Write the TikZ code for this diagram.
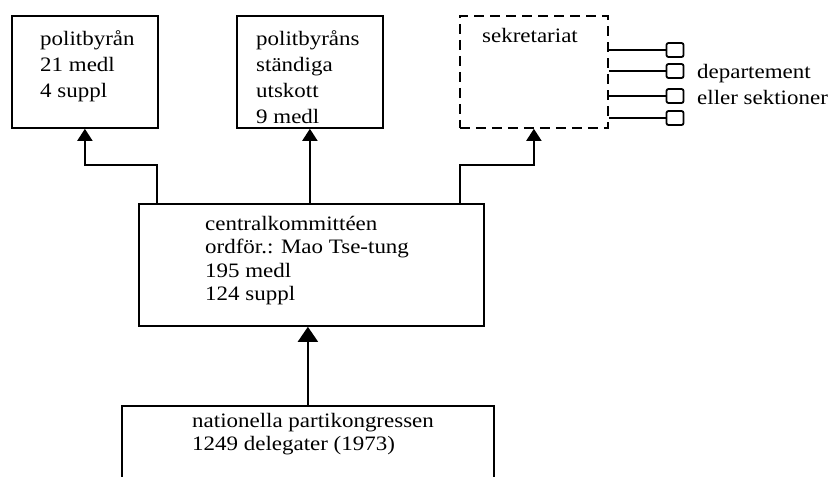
\documentclass[tikz,border=0pt]{standalone}
\usepackage{fontspec}
\setmainfont{Liberation Serif}[FakeStretch=1.12]
\usetikzlibrary{arrows.meta}

\begin{document}
\begin{tikzpicture}[x=1pt, y=-1pt,
    box/.style={draw, line width=1.8pt, inner sep=0pt, anchor=north west},
    txt/.style={anchor=north west, inner sep=0pt, align=left, font=\fontsize{20.5}{26}\selectfont},
    lowtxt/.style={txt, font=\fontsize{20.5}{23.5}\selectfont},
    arr/.style={line width=1.8pt, -{Triangle[width=15pt,length=12pt]}},
    bigarr/.style={line width=1.8pt, -{Triangle[width=20pt,length=15pt]}},
    sq/.style={draw, line width=1.8pt, rounded corners=2pt, minimum width=17pt, minimum height=14pt, inner sep=0pt}]
    \useasboundingbox (0,0) rectangle (839,477);
    \clip (0,0) rectangle (839,477);

    % top row
    \node[box, minimum width=146pt, minimum height=112pt] (pb) at (11,15) {};
    \node[txt] (pbt) at (40,30) {politbyrån\\21 medl\\4 suppl};

    \node[box, minimum width=146pt, minimum height=112pt] (ps) at (236,15) {};
    \node[txt] (pst) at (256,30) {politbyråns\\ständiga\\utskott\\9 medl};

    \node[box, dash pattern=on 10pt off 6pt, minimum width=148pt, minimum height=112pt] (sek) at (459,15) {};
    \node[txt] (sekt) at (482,28) {sekretariat};

    % departement
    \node[sq] (sq1) at (675,50) {};
    \node[sq] (sq2) at (675,71) {};
    \node[sq] (sq3) at (675,96) {};
    \node[sq] (sq4) at (675,118) {};
    \foreach \s in {sq1,sq2,sq3,sq4}
        \draw[line width=1.8pt] (sek.east |- \s) -- (\s.west);
    \node[txt, anchor=west] (dep) at (697,84) {departement\\eller sektioner};

    % centralkommitten
    \node[box, minimum width=345pt, minimum height=122pt] (ck) at (138,203) {};
    \node[lowtxt] (ckt) at (205,216) {centralkommittéen\\ordför.: Mao Tse-tung\\195 medl\\124 suppl};

    % kongressen
    \node[box, minimum width=372pt, minimum height=120pt] (nk) at (121,405) {};
    \node[lowtxt] (nkt) at (192,413) {nationella partikongressen\\1249 delegater (1973)};

    % connectors
    \coordinate (k1) at (157,165);
    \coordinate (k2) at (460,165);
    \draw[arr] (ck.north -| k1) -- (k1) -| (pb.south);
    \draw[arr] (ck.north -| ps.south) -- (ps.south);
    \draw[arr] (ck.north -| k2) -- (k2) -| (sek.south);
    \draw[bigarr] (nk.north) -- (nk.north |- ck.south);
\end{tikzpicture}
\end{document}
